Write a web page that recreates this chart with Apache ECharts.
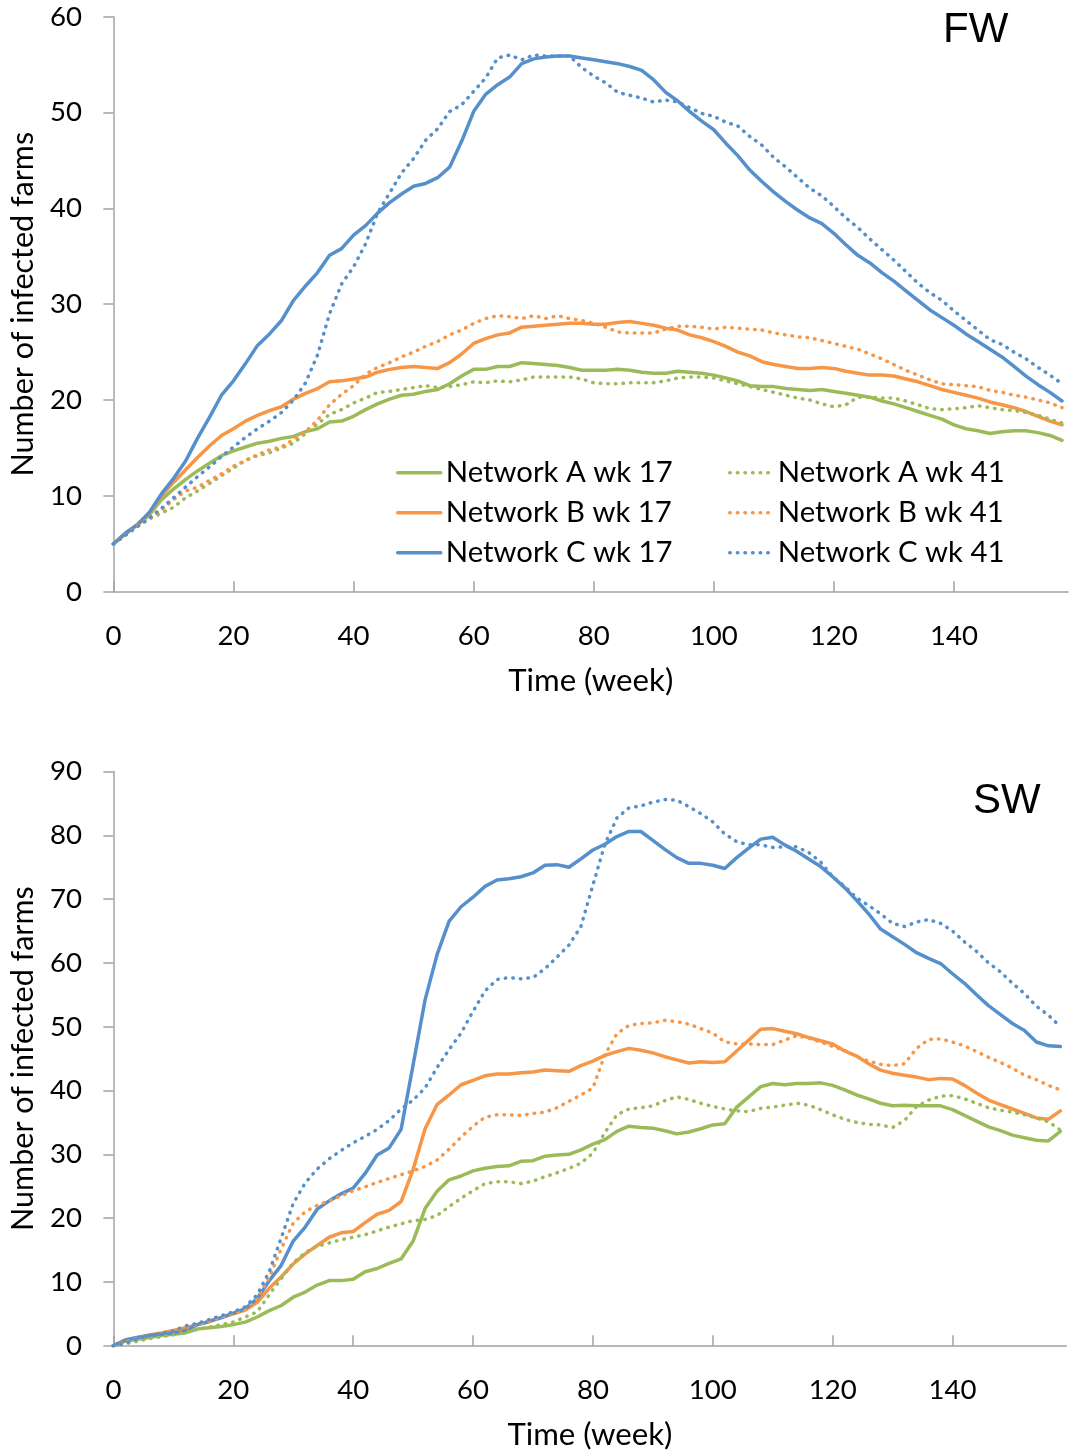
<!DOCTYPE html>
<html>
<head>
<meta charset="utf-8">
<script src="https://cdn.jsdelivr.net/npm/echarts@6/dist/echarts.min.js"></script>
<style>
  html, body { margin: 0; padding: 0; background: #fff; }
  #chart { width: 1069px; height: 1454px; }
</style>
</head>
<body>
<div id="chart"></div>
<script>
// Simulated number of infected farms per week, two seasons of introduction (wk 17 / wk 41)
const weeks = [0,2,4,6,8,10,12,14,16,18,20,22,24,26,28,30,32,34,36,38,40,42,44,46,48,50,52,54,56,58,
  60,62,64,66,68,70,72,74,76,78,80,82,84,86,88,90,92,94,96,98,100,102,104,106,108,110,112,114,116,118,
  120,122,124,126,128,130,132,134,136,138,140,142,144,146,148,150,152,154,156,158];

const xTicks = [0, 20, 40, 60, 80, 100, 120, 140];

const seriesNames = ['Network A wk 17', 'Network B wk 17', 'Network C wk 17',
                     'Network A wk 41', 'Network B wk 41', 'Network C wk 41'];

// FW panel
const fwA17 = [5.0,6.0,7.0,8.0,9.6,10.7,11.7,12.6,13.4,14.2,14.7,15.1,15.5,15.7,16.0,16.2,16.7,17.0,17.7,17.8,
  18.3,19.0,19.6,20.1,20.5,20.6,20.9,21.1,21.7,22.5,23.2,23.2,23.5,23.5,23.9,23.8,23.7,23.6,23.4,23.1,
  23.1,23.1,23.2,23.1,22.9,22.8,22.8,23.0,22.9,22.8,22.6,22.3,22.0,21.5,21.4,21.4,21.2,21.1,21.0,21.1,
  20.9,20.7,20.5,20.3,19.9,19.6,19.2,18.8,18.4,18.0,17.4,17.0,16.8,16.5,16.7,16.8,16.8,16.6,16.3,15.8];
const fwB17 = [5.0,6.1,7.0,8.2,10.0,11.4,12.7,14.0,15.2,16.3,17.0,17.8,18.4,18.9,19.3,20.1,20.7,21.2,21.9,22.0,
  22.2,22.4,22.9,23.2,23.4,23.5,23.4,23.3,23.9,24.8,25.9,26.4,26.8,27.0,27.6,27.7,27.8,27.9,28.0,28.0,
  27.9,27.9,28.1,28.2,28.0,27.8,27.5,27.3,26.8,26.5,26.1,25.6,25.0,24.6,24.0,23.7,23.5,23.3,23.3,23.4,
  23.3,23.0,22.8,22.6,22.6,22.5,22.2,21.9,21.5,21.1,20.8,20.5,20.2,19.8,19.5,19.2,18.8,18.3,17.8,17.4];
const fwC17 = [5.0,6.1,7.0,8.3,10.2,11.8,13.6,16.0,18.2,20.5,22.0,23.8,25.7,26.9,28.3,30.4,31.9,33.3,35.1,35.8,
  37.2,38.2,39.5,40.6,41.5,42.3,42.6,43.2,44.3,47.0,50.1,51.9,52.9,53.7,55.1,55.6,55.8,55.9,55.9,55.7,
  55.5,55.3,55.1,54.8,54.4,53.4,52.1,51.2,50.1,49.1,48.2,46.8,45.5,44.0,42.8,41.7,40.7,39.8,39.0,38.4,
  37.4,36.2,35.1,34.3,33.3,32.4,31.4,30.4,29.4,28.6,27.8,26.9,26.1,25.3,24.5,23.5,22.5,21.6,20.8,19.9];
const fwA41 = [5.0,5.9,6.8,7.6,8.2,8.8,9.8,10.5,11.3,12.1,12.9,13.7,14.2,14.5,15.0,15.5,16.5,17.5,18.5,19.0,
  19.7,20.2,20.8,20.9,21.1,21.3,21.5,21.3,21.4,21.6,21.9,21.8,22.0,21.9,22.1,22.4,22.4,22.4,22.4,22.2,
  21.8,21.7,21.7,21.8,21.8,21.8,22.0,22.3,22.4,22.4,22.3,22.0,21.7,21.4,21.1,20.8,20.5,20.2,20.0,19.6,
  19.3,19.5,20.3,20.3,20.2,20.2,19.9,19.5,19.1,19.0,19.1,19.2,19.4,19.2,19.0,18.9,18.7,18.4,18.0,17.6];
const fwB41 = [5.0,5.9,6.9,7.7,8.5,9.6,10.5,10.9,11.6,12.3,13.1,13.7,14.3,14.8,15.1,15.9,16.7,17.9,19.5,20.6,
  21.5,22.7,23.4,23.9,24.5,25.0,25.6,26.1,26.8,27.3,28.0,28.5,28.8,28.7,28.5,28.8,28.5,28.8,28.5,28.3,
  28.0,27.6,27.1,27.0,27.0,27.0,27.4,27.7,27.7,27.6,27.4,27.6,27.5,27.4,27.3,27.0,26.8,26.6,26.5,26.2,
  25.9,25.6,25.3,24.8,24.3,23.7,23.1,22.6,22.1,21.7,21.6,21.5,21.4,21.0,20.8,20.5,20.3,20.0,19.7,19.2];
const fwC41 = [5.0,5.9,6.8,7.7,8.7,9.8,10.9,12.0,13.0,14.1,15.1,16.1,17.0,17.8,18.7,20.0,21.8,24.7,29.0,32.1,
  33.9,36.3,39.5,41.6,43.7,45.2,47.1,48.3,50.1,50.8,52.2,53.6,55.7,56.0,55.5,56.0,55.9,55.9,55.9,54.7,
  53.8,53.1,52.1,51.8,51.5,51.1,51.3,51.1,50.5,49.9,49.6,49.0,48.6,47.5,46.6,45.3,44.3,43.2,42.1,41.3,
  40.2,39.0,38.0,36.8,35.7,34.6,33.4,32.2,31.2,30.4,29.3,28.3,27.3,26.3,25.8,25.0,24.3,23.4,22.6,21.7];

// SW panel
const swA17 = [0,0.7,1.0,1.3,1.6,1.8,2.0,2.6,2.8,3.0,3.3,3.7,4.5,5.5,6.3,7.6,8.4,9.5,10.2,10.2,
  10.4,11.6,12.1,12.9,13.6,16.4,21.5,24.2,26.0,26.6,27.4,27.8,28.1,28.2,28.9,29.0,29.7,29.9,30.0,30.7,
  31.6,32.3,33.6,34.4,34.2,34.1,33.7,33.2,33.5,34.0,34.6,34.8,37.4,39.0,40.6,41.1,40.9,41.1,41.1,41.2,
  40.8,40.1,39.3,38.7,38.0,37.6,37.7,37.6,37.6,37.6,37.0,36.1,35.2,34.3,33.7,33.0,32.6,32.2,32.1,33.6];
const swB17 = [0,0.9,1.3,1.7,2.0,2.4,2.8,3.3,3.8,4.4,5.0,5.6,6.8,9.0,10.8,12.8,14.4,15.7,17.0,17.7,
  17.9,19.3,20.6,21.2,22.6,27.6,34.0,37.8,39.3,40.9,41.6,42.3,42.6,42.6,42.8,42.9,43.2,43.1,43.0,43.9,
  44.6,45.5,46.1,46.6,46.3,45.9,45.3,44.8,44.3,44.5,44.4,44.5,46.2,47.9,49.6,49.7,49.3,48.9,48.3,47.8,
  47.3,46.2,45.4,44.2,43.2,42.7,42.4,42.1,41.7,41.9,41.8,40.8,39.6,38.5,37.8,37.1,36.4,35.7,35.5,36.8];
const swC17 = [0,0.9,1.3,1.6,1.8,2.0,2.4,3.3,3.8,4.4,5.1,5.8,7.4,10.2,12.6,16.4,18.6,21.4,22.7,23.8,
  24.7,27.0,29.9,31.0,33.9,44.0,54.2,61.3,66.5,68.8,70.3,72.0,73.0,73.2,73.5,74.1,75.3,75.4,75.0,76.3,
  77.7,78.6,79.8,80.6,80.6,79.2,77.8,76.5,75.6,75.6,75.3,74.8,76.5,78.0,79.4,79.7,78.5,77.5,76.3,75.1,
  73.5,71.8,69.8,67.7,65.3,64.1,62.9,61.6,60.7,59.9,58.3,56.8,55.0,53.3,51.9,50.5,49.4,47.6,47.0,46.9];
const swA41 = [0,0.3,0.7,1.1,1.4,1.7,2.1,2.6,2.9,3.3,3.7,4.5,5.3,8.0,10.5,13.0,14.6,15.6,16.1,16.6,
  17.0,17.4,18.0,18.6,19.1,19.6,19.8,20.4,21.8,23.1,24.3,25.4,25.7,25.7,25.4,25.8,26.5,27.1,27.8,28.6,
  30.2,33.4,36.2,37.1,37.3,37.6,38.4,39.0,38.6,38.0,37.5,37.1,36.8,36.7,37.2,37.4,37.7,38.0,37.7,37.0,
  36.2,35.5,35.0,34.7,34.6,34.2,35.3,37.5,38.5,39.1,39.2,38.7,38.0,37.3,36.9,36.6,36.2,35.7,35.1,33.8];
const swB41 = [0,0.6,1.2,1.6,2.0,2.3,2.8,3.4,3.8,4.5,5.0,5.7,7.4,10.7,15.2,19.2,21.0,22.0,22.7,23.5,
  24.3,24.9,25.6,26.2,26.8,27.4,28.1,29.1,30.8,32.7,34.4,35.8,36.2,36.2,36.1,36.4,36.6,37.3,38.3,39.3,
  40.4,45.6,48.9,50.2,50.5,50.6,51.0,50.8,50.4,49.7,49.0,47.6,47.3,47.3,47.2,47.2,47.9,48.6,48.2,47.6,
  46.9,46.3,45.3,44.6,44.1,43.9,44.2,46.6,48.0,48.1,47.6,47.0,46.1,45.2,44.4,43.5,42.4,41.7,40.8,40.1];
const swC41 = [0,0.4,1.1,1.6,1.9,2.3,3.1,3.5,4.1,4.7,5.3,6.1,8.0,11.6,16.9,22.3,25.5,27.7,29.3,30.6,
  31.8,32.8,33.9,35.3,37.1,38.5,40.4,43.6,46.4,49.0,52.4,55.6,57.4,57.7,57.5,57.7,59.1,60.9,62.8,65.7,
  72.2,78.6,82.7,84.3,84.6,85.2,85.6,85.5,84.5,83.4,82.1,80.2,79.0,78.5,78.5,78.1,78.2,78.2,77.3,75.8,
  73.5,72.0,70.2,69.0,67.7,66.2,65.7,66.4,66.8,66.2,65.0,63.3,61.8,60.0,58.6,56.8,55.2,53.2,51.8,50.0];

const FONT = 'Lato, "Open Sans", sans-serif';
const TITLE_FONT = '"Liberation Sans", Arial, sans-serif';
const AXIS_COLOR = '#A3A3A3';
const COLORS = ['#9BBB59', '#F79646', '#5590CC'];
const LINE_WIDTH = 3.5;
const DOT_PATTERN = [0.5, 7.1];

// pick font sizes so the sample strings occupy the wanted widths
function fitSize(text, width) {
  const ctx = document.createElement('canvas').getContext('2d');
  ctx.font = '100px ' + FONT;
  return Math.round(1000 * width / ctx.measureText(text).width) / 10;
}
const tickSize = fitSize('140', 48);
const legendSize = fitSize('Network A wk 41', 227);
const yNameSize = fitSize('Number of infected farms', 345);
const xNameSize = fitSize('Time (week)', 165);

const panels = [
  { title: 'FW', yMax: 60, grid: { left: 110.7, top: 16.7, width: 957.3, height: 575 },
    values: [fwA17, fwB17, fwC17, fwA41, fwB41, fwC41], titlePos: [943, 30.5] },
  { title: 'SW', yMax: 90, grid: { left: 110, top: 771.5, width: 956.4, height: 574.2 },
    values: [swA17, swB17, swC17, swA41, swB41, swC41], titlePos: [973, 801] }
];

const axisLineStyle = { color: AXIS_COLOR, width: 1.5 };
const textBase = { fontFamily: FONT, color: '#000' };

const grids = [], xAxes = [], yAxes = [], series = [], graphics = [];
panels.forEach((p, i) => {
  grids.push(Object.assign({ containLabel: false }, p.grid));
  xAxes.push({
    type: 'value', gridIndex: i, min: 0, max: 159,
    axisLine: { show: true, onZero: false, lineStyle: axisLineStyle },
    axisTick: { show: true, inside: true, length: 10.5, customValues: xTicks, lineStyle: axisLineStyle },
    axisLabel: Object.assign({ customValues: xTicks, margin: 30, fontSize: tickSize }, textBase),
    splitLine: { show: false },
    name: 'Time (week)', nameLocation: 'middle', nameGap: 74,
    nameTextStyle: Object.assign({ fontSize: xNameSize }, textBase)
  });
  yAxes.push({
    type: 'value', gridIndex: i, min: 0, max: p.yMax, interval: 10,
    axisLine: { show: true, lineStyle: axisLineStyle },
    axisTick: { show: true, inside: false, length: 10, lineStyle: axisLineStyle },
    axisLabel: Object.assign({ margin: 31.5, fontSize: tickSize }, textBase),
    splitLine: { show: false },
    name: 'Number of infected farms', nameLocation: 'middle', nameRotate: 90, nameGap: 72,
    nameTextStyle: Object.assign({ fontSize: yNameSize }, textBase)
  });
  p.values.forEach((vals, k) => {
    const dotted = k >= 3;
    series.push({
      type: 'line', name: seriesNames[k], xAxisIndex: i, yAxisIndex: i,
      data: weeks.map((w, j) => [w, vals[j]]),
      symbol: 'none', showSymbol: false, smooth: false, silent: true,
      lineStyle: {
        color: COLORS[k % 3], width: LINE_WIDTH,
        type: dotted ? DOT_PATTERN : 'solid',
        cap: 'round', join: 'round'
      },
      itemStyle: { color: COLORS[k % 3] },
      emphasis: { disabled: true },
      z: 2 + k
    });
  });
  graphics.push({
    type: 'text', x: p.titlePos[0], y: p.titlePos[1],
    style: { text: p.title, fontFamily: TITLE_FONT, fontSize: 42, fill: '#000',
             align: 'left', verticalAlign: 'middle' }
  });
});

// legend keys are line samples only (the marker part of the icon is hidden)
const legendCommon = {
  orient: 'vertical', top: 458.2, padding: 0, itemWidth: 43, itemHeight: 20, itemGap: 11,
  selectedMode: false,
  itemStyle: { opacity: 0 },
  lineStyle: { width: LINE_WIDTH },
  textStyle: Object.assign({ fontSize: legendSize }, textBase)
};

const option = {
  animation: false,
  backgroundColor: '#fff',
  grid: grids,
  xAxis: xAxes,
  yAxis: yAxes,
  legend: [
    Object.assign({ left: 396, data: seriesNames.slice(0, 3) }, legendCommon),
    Object.assign({ left: 728, data: seriesNames.slice(3) }, legendCommon)
  ],
  graphic: graphics,
  series: series
};

const chart = echarts.init(document.getElementById('chart'), null, { renderer: 'canvas' });
chart.setOption(option);
</script>
</body>
</html>
